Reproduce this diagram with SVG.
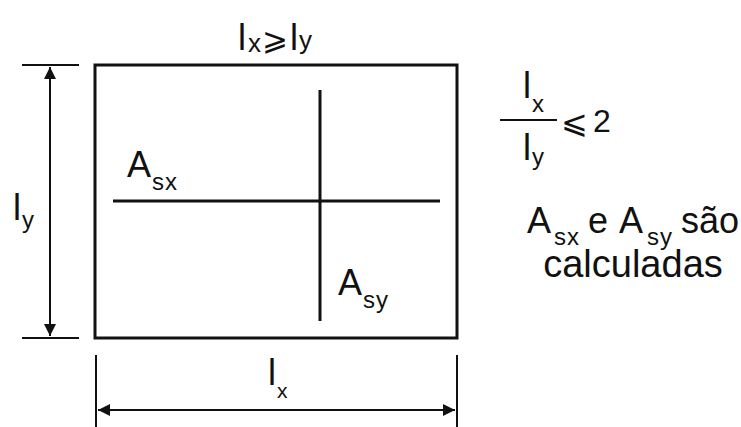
<svg xmlns="http://www.w3.org/2000/svg" width="741" height="427" viewBox="0 0 741 427">
<defs>
<style>
.t{font-family:"Liberation Sans",Arial,sans-serif;font-size:36px;fill:#111}
.s{font-size:24px;letter-spacing:1px}
.ln{stroke:#111;stroke-width:3;fill:none}
.th{stroke:#111;stroke-width:2;fill:none}
</style>
<marker id="ah" viewBox="0 0 10 10" refX="10" refY="5" markerWidth="14" markerHeight="12" markerUnits="userSpaceOnUse" orient="auto-start-reverse">
<path d="M0,0 L10,5 L0,10 Z" fill="#111"/>
</marker>
</defs>
<rect width="741" height="427" fill="#fff"/>
<g id="slab">
<rect x="95" y="65" width="362" height="273" class="ln"/>
</g>
<g id="connectors">
<line x1="320" y1="90" x2="320" y2="321" class="ln"/>
<line x1="113" y1="201" x2="440" y2="201" class="ln"/>
<line x1="22" y1="65" x2="79" y2="65" class="th"/>
<line x1="22" y1="338" x2="79" y2="338" class="th"/>
<line x1="50" y1="67" x2="50" y2="336" class="th" marker-start="url(#ah)" marker-end="url(#ah)"/>
<line x1="96" y1="355" x2="96" y2="427" class="th"/>
<line x1="457" y1="355" x2="457" y2="427" class="th"/>
<line x1="98" y1="410" x2="455" y2="410" class="th" marker-start="url(#ah)" marker-end="url(#ah)"/>
<line x1="500" y1="120" x2="557" y2="120" class="th"/>
</g>
<g id="labels">
<text class="t" x="238" y="50">l</text>
<text class="t s" x="248" y="52" style="font-size:26px">x</text>
<text class="t" x="262" y="50" style="font-size:31px">⩾</text>
<text class="t" x="290" y="50">l</text>
<text class="t s" x="299" y="49" style="font-size:26px">y</text>

<text class="t" x="13" y="220">l</text>
<text class="t s" x="22" y="228">y</text>

<text class="t" x="127" y="177">A</text>
<text class="t s" x="152" y="190">sx</text>

<text class="t" x="338" y="295">A</text>
<text class="t s" x="363" y="308">sy</text>

<text class="t" x="268" y="385">l</text>
<text class="t s" x="277" y="398" style="font-size:21px">x</text>

<text class="t" x="523" y="98">l</text>
<text class="t s" x="532" y="112">x</text>
<text class="t" x="523" y="160">l</text>
<text class="t s" x="532" y="165">y</text>
<text class="t" x="561" y="133" style="font-size:32px">⩽</text>
<text class="t" x="593" y="132" style="font-size:32px">2</text>

<text class="t" x="527" y="233">A</text>
<text class="t s" x="554" y="245">sx</text>
<text class="t" x="588" y="233">e</text>
<text class="t" x="619" y="233">A</text>
<text class="t s" x="647" y="245">sy</text>
<text class="t" x="681" y="233">são</text>
<text class="t" x="633" y="277" text-anchor="middle" style="font-size:38px">calculadas</text>
</g>
</svg>
